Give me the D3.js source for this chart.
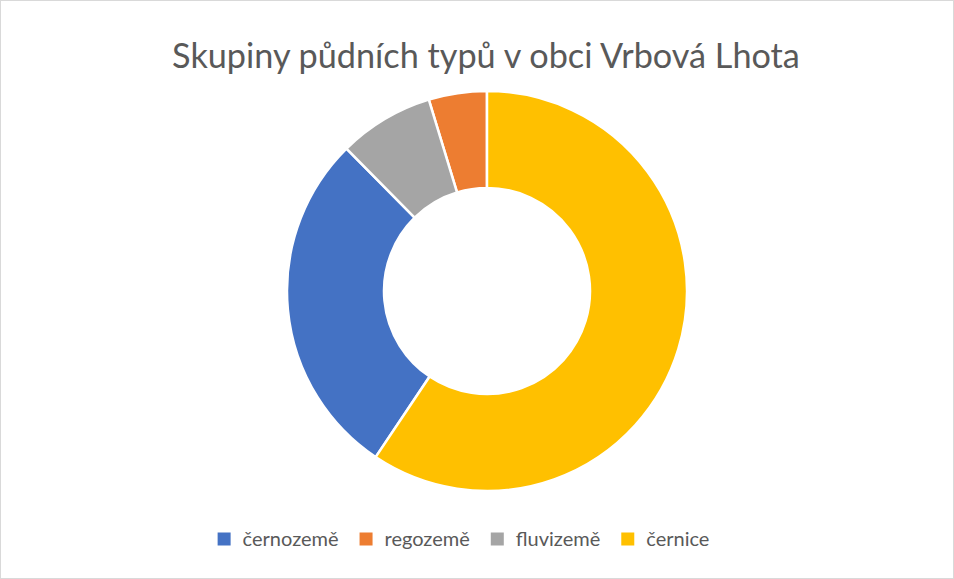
<!DOCTYPE html>
<html>
<head>
<meta charset="utf-8">
<script src="https://cdn.jsdelivr.net/npm/d3@7"></script>
<style>
  body { margin: 0; background: #fff; }
  text { font-family: Lato, "Open Sans", sans-serif; fill: #595959; }
</style>
</head>
<body>
<div id="target"></div>
<script>
const width = 954;
const height = 579;

// data, in legend order
const categories = ['černozemě', 'regozemě', 'fluvizemě', 'černice'];
const values = [28.2, 4.7, 7.7, 59.4];
const colors = ['#4472c4', '#ed7d31', '#a5a5a5', '#ffc000'];
// order of slices clockwise from 12 o'clock
const drawOrder = ['černice', 'černozemě', 'fluvizemě', 'regozemě'];

const title = 'Skupiny půdních typů v obci Vrbová Lhota';

const svg = d3.select('#target').append('svg').attr('width', width).attr('height', height);

svg.append('rect')
  .attr('x', 0.5).attr('y', 0.5)
  .attr('width', width - 1).attr('height', height - 1)
  .attr('fill', '#fff')
  .attr('stroke', '#d9d9d9');

const titleText = svg.append('text')
  .attr('x', 486)
  .attr('y', 68)
  .attr('text-anchor', 'middle')
  .style('font-size', '30px')
  .text(title);
// fit the title to the width it has in the reference
const tw = titleText.node().getComputedTextLength();
titleText.style('font-size', (30 * 628 / tw) + 'px');

const data = categories.map((c, i) => ({ name: c, value: values[i], color: colors[i] }));

const pie = d3.pie()
  .value((d) => d.value)
  .sort((a, b) => drawOrder.indexOf(a.name) - drawOrder.indexOf(b.name));

const arc = d3.arc().innerRadius(103).outerRadius(200);

const g = svg.append('g').attr('transform', 'translate(487,291)');

g.selectAll('path')
  .data(pie(data))
  .enter()
  .append('path')
  .attr('d', arc)
  .attr('fill', (d) => d.data.color)
  .attr('stroke', '#fff')
  .attr('stroke-width', 2.5)
  .attr('stroke-linejoin', 'round');

// legend
const legend = svg.append('g').attr('class', 'legend');
const item = legend.selectAll('g')
  .data(data)
  .enter()
  .append('g');

item.append('rect')
  .attr('x', 0)
  .attr('y', -6.5)
  .attr('width', 13)
  .attr('height', 13)
  .attr('fill', (d) => d.color);

const labels = item.append('text')
  .attr('x', 25)
  .attr('y', 0)
  .attr('dy', '0.35em')
  .style('font-size', '19px')
  .text((d) => d.name);

// first label is ~96px wide in the reference
const lw = labels.node().getComputedTextLength();
labels.style('font-size', (19 * 96 / lw) + 'px');

let x = 0;
item.each(function () {
  const w = d3.select(this).select('text').node().getComputedTextLength();
  d3.select(this).attr('transform', 'translate(' + x + ',0)');
  x += 25 + w + 21;
});
const total = x - 21;
legend.attr('transform', 'translate(' + (219 + (489 - total) / 2) + ',539)');
</script>
</body>
</html>
